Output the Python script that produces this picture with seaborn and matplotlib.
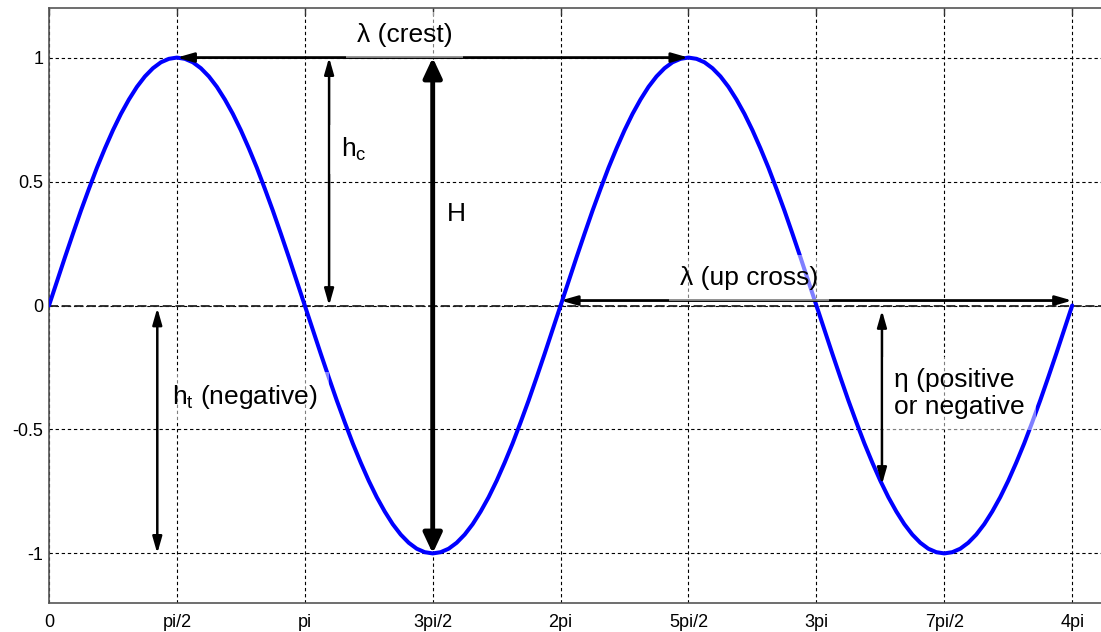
import numpy as np
import matplotlib
matplotlib.use("Agg")
import matplotlib.pyplot as plt
import seaborn as sns

# ---- data -------------------------------------------------------------
# sample index k -> x = k * pi/32
step_index = list(range(129))
wave_y = [
    0.0, 0.098, 0.195, 0.290, 0.383, 0.471, 0.556, 0.634,
    0.707, 0.773, 0.831, 0.882, 0.924, 0.957, 0.981, 0.995,
    1.0, 0.995, 0.981, 0.957, 0.924, 0.882, 0.831, 0.773,
    0.707, 0.634, 0.556, 0.471, 0.383, 0.290, 0.195, 0.098,
    0.0, -0.098, -0.195, -0.290, -0.383, -0.471, -0.556, -0.634,
    -0.707, -0.773, -0.831, -0.882, -0.924, -0.957, -0.981, -0.995,
    -1.0, -0.995, -0.981, -0.957, -0.924, -0.882, -0.831, -0.773,
    -0.707, -0.634, -0.556, -0.471, -0.383, -0.290, -0.195, -0.098,
    0.0, 0.098, 0.195, 0.290, 0.383, 0.471, 0.556, 0.634,
    0.707, 0.773, 0.831, 0.882, 0.924, 0.957, 0.981, 0.995,
    1.0, 0.995, 0.981, 0.957, 0.924, 0.882, 0.831, 0.773,
    0.707, 0.634, 0.556, 0.471, 0.383, 0.290, 0.195, 0.098,
    0.0, -0.098, -0.195, -0.290, -0.383, -0.471, -0.556, -0.634,
    -0.707, -0.773, -0.831, -0.882, -0.924, -0.957, -0.981, -0.995,
    -1.0, -0.995, -0.981, -0.957, -0.924, -0.882, -0.831, -0.773,
    -0.707, -0.634, -0.556, -0.471, -0.383, -0.290, -0.195, -0.098,
    0.0,
]
xtick_labels = ["0", "pi/2", "pi", "3pi/2", "2pi", "5pi/2", "3pi", "7pi/2", "4pi"]
ytick_values = [-1, -0.5, 0, 0.5, 1]
ytick_labels = ["-1", "-0.5", "0", "0.5", "1"]

# arrows: (x0, y0, x1, y1, linewidth)
arrows = {
    "lambda_crest": (np.pi / 2, 1.0, 5 * np.pi / 2, 1.0, 2.0),
    "h_c": (3.44, 0.0, 3.44, 1.0, 1.8),
    "H": (3 * np.pi / 2, -1.0, 3 * np.pi / 2, 1.0, 3.5),
    "lambda_up": (2 * np.pi, 0.02, 4 * np.pi, 0.02, 2.0),
    "eta": (10.23, -0.02, 10.23, -0.722, 1.8),
    "h_t": (1.33, -0.01, 1.33, -1.0, 1.8),
}
# labels: (x, y, text)
labels = [
    (3.78, 1.09, "λ (crest)"),
    (3.59, 0.63, "h$_\\mathregular{c}$"),
    (4.89, 0.37, "H"),
    (1.51, -0.37, "h$_\\mathregular{t}$ (negative)"),
    (7.75, 0.11, "λ (up cross)"),
    (10.38, -0.355, "η (positive\nor negative"),
]

# ---- style ------------------------------------------------------------
sns.set_style("white")
plt.rcParams["font.family"] = ["Liberation Sans", "DejaVu Sans"]
plt.rcParams["mathtext.fontset"] = "custom"
plt.rcParams["mathtext.rm"] = "Liberation Sans"
plt.rcParams["mathtext.default"] = "regular"
plt.rcParams["text.color"] = "black"
plt.rcParams["xtick.color"] = "black"
plt.rcParams["ytick.color"] = "black"

fig = plt.figure(figsize=(11.01, 6.32), dpi=100)
ax = fig.add_axes([49 / 1101, 29 / 632, 1058.5 / 1101, 595 / 632])

x = np.array(step_index) * np.pi / 32
sns.lineplot(x=x, y=wave_y, color="#0000ff", lw=2.9, ax=ax, zorder=3)

# zero line
ax.axhline(0, color="#222222", lw=1.3, linestyle=(0, (5, 2)), zorder=2)

ax.set_xlim(0, 13.0)
ax.set_ylim(-1.2, 1.2)
ax.set_xticks(np.arange(9) * np.pi / 2)
ax.set_xticklabels(xtick_labels, fontsize=13)
ax.set_yticks(ytick_values)
ax.set_yticklabels(ytick_labels, fontsize=13)
ax.tick_params(direction="in", length=5, width=1, color="#333333",
               labelcolor="black", top=True, right=True)
ax.tick_params(axis="x", pad=8)
ax.tick_params(axis="y", pad=4)
ax.grid(True, color="black", linestyle=(0, (3, 2.5)), lw=0.8)
for s in ax.spines.values():
    s.set_color("#555555")
    s.set_linewidth(1.2)

for name, (x0, y0, x1, y1, lw) in arrows.items():
    if name == "H":
        style = "<|-|>,head_length=0.6,head_width=0.28"
        ms, z = 20, 7
    else:
        style = "<|-|>,head_length=0.7,head_width=0.2"
        ms, z = 14, 4
    ax.annotate("", xy=(x1, y1), xytext=(x0, y0),
                arrowprops=dict(arrowstyle=style, color="black", lw=lw,
                                shrinkA=0, shrinkB=0, mutation_scale=ms),
                zorder=z)

for lx, ly, txt in labels:
    ax.text(lx, ly, txt, fontsize=19, ha="left", va="center", zorder=5,
            color="black",
            bbox=dict(facecolor="white", alpha=0.5, edgecolor="none", pad=8))

fig.savefig("out.png", dpi=100)
